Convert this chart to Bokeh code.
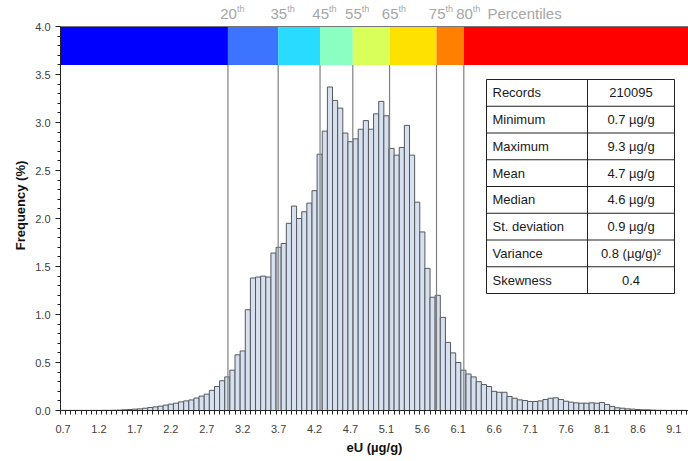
import numpy as np
from bokeh.plotting import figure
from bokeh.models import Range1d, FixedTicker
from bokeh.core.properties import value
from bokeh.embed import file_html
from bokeh.resources import INLINE

# ---------------- data ----------------
bin_start = 0.7
bin_width = 0.0705
frequency = [
    0.001, 0.001, 0.001, 0.001, 0.001, 0.001, 0.001, 0.001, 0.002, 0.002,
    0.003, 0.004, 0.007, 0.010, 0.014, 0.017, 0.024, 0.031, 0.038, 0.045,
    0.056, 0.066, 0.076, 0.090, 0.100, 0.110, 0.130, 0.150, 0.170, 0.210,
    0.250, 0.310, 0.350, 0.420, 0.580, 0.620, 1.050, 1.380, 1.390, 1.400,
    1.390, 1.640, 1.700, 1.740, 1.950, 2.130, 2.000, 2.070, 2.160, 2.290,
    2.670, 2.910, 3.370, 3.230, 3.150, 2.890, 2.800, 2.830, 2.930, 3.020,
    2.930, 3.090, 3.220, 3.070, 2.730, 2.660, 2.740, 2.970, 2.660, 2.170,
    1.860, 1.480, 1.180, 1.200, 0.970, 0.710, 0.600, 0.500, 0.420, 0.380,
    0.350, 0.300, 0.270, 0.250, 0.200, 0.190, 0.190, 0.146, 0.128, 0.111,
    0.104, 0.094, 0.094, 0.100, 0.115, 0.128, 0.132, 0.115, 0.097, 0.087,
    0.080, 0.076, 0.076, 0.080, 0.076, 0.083, 0.063, 0.042, 0.028, 0.024,
    0.017, 0.014, 0.010, 0.007, 0.007, 0.004, 0.002, 0.002, 0.001, 0.001,
    0.001, 0.001,
]
tick_labels = ["0.7", "1.2", "1.7", "2.2", "2.7", "3.2", "3.7", "4.2", "4.7",
               "5.1", "5.6", "6.1", "6.6", "7.1", "7.6", "8.1", "8.6", "9.1"]
percentile_names = ["20", "35", "45", "55", "65", "75", "80"]
percentile_eu = [3.00, 3.69, 4.265, 4.715, 5.22, 5.865, 6.24]
band_colors = ["#0000FF", "#3D74FF", "#29DBFF", "#8AFFC1", "#D8FF5A",
               "#FFE100", "#FF8000", "#FF0000"]
stat_names = ["Records", "Minimum", "Maximum", "Mean", "Median",
              "St. deviation", "Variance", "Skewness"]
stat_values = ["210095", "0.7 µg/g", "9.3 µg/g", "4.7 µg/g", "4.6 µg/g",
               "0.9 µg/g", "0.8 (µg/g)²", "0.4"]

# ---------------- layout helpers ----------------
PX_PER_X = 72.8     # pixels per eU unit
PX_PER_Y = 96.0     # pixels per % unit
FRAME_L, FRAME_B = 60, 410
x_end = bin_start + 628 / PX_PER_X
y_end = FRAME_B / PX_PER_Y


def dx(px):
    return bin_start + (px - FRAME_L) / PX_PER_X


def dy(py):
    return (FRAME_B - py) / PX_PER_Y


FONT = value("Liberation Sans")
n = len(frequency)
edges = bin_start + bin_width * np.arange(n + 1)

p = figure(width=688, height=461, x_range=Range1d(bin_start, x_end),
           y_range=Range1d(0, y_end), output_backend="svg",
           toolbar_location=None, min_border_left=60, min_border_right=0,
           min_border_top=0, min_border_bottom=51)
p.outline_line_color = None
p.xgrid.visible = False
p.ygrid.visible = False
p.background_fill_color = "white"
p.border_fill_color = "white"

# histogram bars
p.quad(left=edges[:-1], right=edges[1:], bottom=0, top=frequency,
       fill_color="#D6E0EF", line_color="#55595f", line_width=1)

# colour band on top
band_top = 4.0
band_bottom = 3.6
band_edges = [bin_start] + percentile_eu + [x_end]
p.quad(left=band_edges[:-1], right=band_edges[1:], bottom=band_bottom,
       top=band_top, fill_color=band_colors, line_color=None)
p.segment(x0=[bin_start], y0=[band_top], x1=[x_end], y1=[band_top],
          line_color="#777777", line_width=1)

# percentile lines
p.segment(x0=percentile_eu, y0=[0] * len(percentile_eu), x1=percentile_eu,
          y1=[band_bottom] * len(percentile_eu), line_color="#808080",
          line_width=1.2)

# percentile labels
lab_y = dy(13)
p.text(x=percentile_eu, y=[lab_y] * len(percentile_eu), text=percentile_names,
       text_align="right", text_baseline="middle", x_offset=9,
       text_font=FONT, text_font_size="15px", text_color="#A6A6A6")
p.text(x=percentile_eu, y=[lab_y] * len(percentile_eu),
       text=["th"] * len(percentile_eu), text_align="left",
       text_baseline="middle", x_offset=9, y_offset=-5,
       text_font=FONT, text_font_size="9px", text_color="#A6A6A6")
p.text(x=[dx(487)], y=[lab_y], text=["Percentiles"], text_align="left",
       text_baseline="middle", text_font=FONT, text_font_size="15px",
       text_color="#A6A6A6")

# statistics table
t_left, t_mid, t_right = dx(486), dx(587), dx(674)
t_top_px, row_px = 79, 26.75
nrows = len(stat_names)
t_top = dy(t_top_px)
t_bot = dy(t_top_px + row_px * nrows)
p.quad(left=[t_left], right=[t_right], bottom=[t_bot], top=[t_top],
       fill_color="white", line_color="#222222", line_width=1)
row_lines = [dy(t_top_px + row_px * k) for k in range(1, nrows)]
p.segment(x0=[t_left] * len(row_lines), y0=row_lines,
          x1=[t_right] * len(row_lines), y1=row_lines,
          line_color="#222222", line_width=1)
p.segment(x0=[t_mid], y0=[t_bot], x1=[t_mid], y1=[t_top],
          line_color="#222222", line_width=1)
row_centres = [dy(t_top_px + row_px * (k + 0.5)) for k in range(nrows)]
p.text(x=[dx(492)] * nrows, y=row_centres, text=stat_names,
       text_align="left", text_baseline="middle", text_font=FONT,
       text_font_size="13px", text_color="#1a1a1a")
p.text(x=[(t_mid + t_right) / 2] * nrows, y=row_centres, text=stat_values,
       text_align="center", text_baseline="middle", text_font=FONT,
       text_font_size="13px", text_color="#1a1a1a")

# x axis
tick_pos = [round(float(edges[7 * k] + bin_width / 2), 6)
            for k in range(len(tick_labels))]
p.xaxis.ticker = FixedTicker(ticks=tick_pos,
                             minor_ticks=[round(float(e), 6) for e in edges])
p.xaxis.major_label_overrides = {t: l for t, l in zip(tick_pos, tick_labels)}
p.xaxis.major_tick_out = 0
p.xaxis.major_tick_in = 0
p.xaxis.minor_tick_out = 4
p.xaxis.minor_tick_in = 0
p.xaxis.minor_tick_line_color = "#222222"
p.xaxis.axis_line_color = "#222222"
p.xaxis.major_label_standoff = 10
p.xaxis.major_label_text_font = "Liberation Sans"
p.xaxis.major_label_text_font_size = "11px"
p.xaxis.major_label_text_color = "#404040"
p.xaxis.axis_label = "eU (µg/g)"
p.xaxis.axis_label_text_font = "Liberation Sans"
p.xaxis.axis_label_text_font_size = "13px"
p.xaxis.axis_label_text_font_style = "bold"
p.xaxis.axis_label_text_color = "#111111"
p.xaxis.axis_label_standoff = 4

# y axis
y_major = [round(0.5 * k, 1) for k in range(9)]
y_minor = [round(0.1 * k, 1) for k in range(41)]
p.yaxis.ticker = FixedTicker(ticks=y_major, minor_ticks=y_minor)
p.yaxis.major_label_overrides = {v: f"{v:.1f}" for v in y_major}
p.yaxis.bounds = (0, 4.0)
p.yaxis.major_tick_out = 5
p.yaxis.major_tick_in = 0
p.yaxis.minor_tick_out = 3
p.yaxis.minor_tick_in = 0
p.yaxis.axis_line_color = "#222222"
p.yaxis.major_tick_line_color = "#222222"
p.yaxis.minor_tick_line_color = "#222222"
p.yaxis.major_label_standoff = 5
p.yaxis.major_label_text_font = "Liberation Sans"
p.yaxis.major_label_text_font_size = "11px"
p.yaxis.major_label_text_color = "#404040"
p.yaxis.axis_label = "Frequency (%)"
p.yaxis.axis_label_text_font = "Liberation Sans"
p.yaxis.axis_label_text_font_size = "13px"
p.yaxis.axis_label_text_font_style = "bold"
p.yaxis.axis_label_text_color = "#111111"
p.yaxis.axis_label_standoff = 4

open("out.html", "w").write(file_html(p, INLINE))
